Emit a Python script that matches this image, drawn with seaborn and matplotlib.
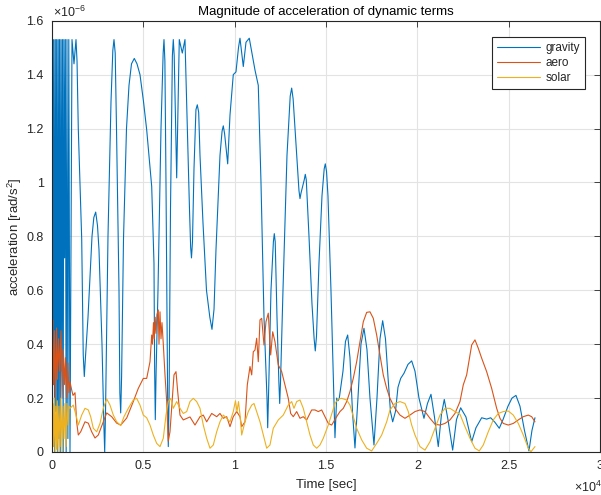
import numpy as np
import pandas as pd
import matplotlib
matplotlib.use("Agg")
import matplotlib.pyplot as plt
import seaborn as sns
from matplotlib.ticker import FuncFormatter

# ---------------- data (time in s, acceleration in 1e-6 rad/s^2) ----------------
gravity_t = [0, 30, 65, 100, 140, 180, 215, 255, 295, 335, 370, 410, 450, 490, 530,
             570, 610, 650, 690, 730, 775, 820, 870, 920, 985,
             1095, 1204, 1314, 1370, 1439, 1626, 1710, 1768, 1830, 1971, 2190, 2290, 2392, 2490,
             2573, 2737, 2840, 2885, 2930,
             3065, 3230, 3330, 3394, 3460, 3531, 3668, 3715, 3761, 3810, 3914, 4078, 4215, 4352, 4505, 4653,
             4817, 5009, 5184, 5310, 5458, 5583, 5620, 5655, 5700, 5802, 5967, 6085, 6131, 6180, 6240,
             6330, 6366, 6410,
             6487, 6590, 6640, 6690, 6826, 6968, 7133, 7280, 7390, 7527, 7590, 7636, 7690, 7773,
             7880, 7954, 8030, 8102,
             8266, 8457, 8640, 8758, 8870, 8977, 9196, 9310, 9377, 9450, 9618, 9744, 9924, 10072, 10209, 10291,
             10472, 10620, 10800, 10948, 11112, 11293, 11441, 11605, 11770, 11808, 11850, 11988,
             12120, 12169, 12220, 12317, 12420, 12465, 12510, 12645, 12864, 13040, 13121, 13200, 13302,
             13520, 13576, 13630, 13810, 13866, 13920, 14069,
             14232, 14350, 14413, 14480, 14616, 14780, 14900, 14961, 15030, 15108, 15272, 15491, 15584, 15656,
             15727, 15930, 16066, 16186, 16312, 16449, 16586, 16750, 16914, 17079,
             17243, 17407, 17626, 17791, 17955, 18102, 18256, 18392, 18529, 18650,
             18803, 18940, 19088, 19269, 19488, 19690, 19871, 20090, 20363, 20555,
             20747, 20938, 21146, 21322, 21475, 21677, 21934, 22142, 22372, 22662,
             22975, 23210, 23522, 23796, 24015, 24250, 24486, 24689, 24963, 25182,
             25399, 25618, 25865, 26111, 26275, 26440]
gravity_v = [1.27, 1.53, 0.25, 1.53, 0.0, 1.53, 0.15, 1.53, 0.0, 1.53, 0.05, 1.53, 0.0, 1.53, 0.3,
             1.53, 0.0, 1.53, 0.72, 1.53, 0.0, 1.53, 0.05, 1.53, 0.0,
             1.53, 1.44, 1.53, 1.45, 1.2, 0.79, 0.36, 0.28, 0.35, 0.5, 0.8, 0.87, 0.89, 0.84,
             0.75, 0.4, 0.1, 0.0, 0.15,
             0.8, 1.3, 1.49, 1.53, 1.48, 1.2, 0.6, 0.22, 0.145, 0.28, 0.79, 1.2, 1.36, 1.44, 1.46, 1.44,
             1.40, 1.30, 1.195, 1.1, 0.985, 0.7, 0.3, 0.12, 0.3, 0.6, 1.2, 1.48, 1.53, 1.45, 1.0,
             0.2, 0.02, 0.2,
             0.9, 1.47, 1.53, 1.47, 1.017, 1.53, 1.48, 1.53, 1.25, 0.9, 0.76, 0.72, 0.78, 1.05,
             1.27, 1.288, 1.26, 1.1,
             0.85, 0.6, 0.5, 0.455, 0.53, 0.75, 1.1, 1.19, 1.21, 1.18, 1.069, 1.25, 1.40, 1.41, 1.5, 1.535,
             1.43, 1.52, 1.535, 1.48, 1.417, 1.36, 1.0, 0.5, 0.2, 0.09, 0.2, 0.6,
             0.78, 0.81, 0.78, 0.5, 0.26, 0.18, 0.26, 0.6, 1.1, 1.32, 1.35, 1.31, 1.2,
             0.97, 0.94, 0.96, 1.01, 1.03, 1.01, 0.8,
             0.55, 0.42, 0.375, 0.43, 0.7, 0.95, 1.05, 1.069, 1.04, 0.95, 0.6, 0.053, 0.2, 0.19,
             0.2, 0.3, 0.41, 0.434, 0.35, 0.15, 0.015, 0.2, 0.4, 0.459,
             0.38, 0.2, 0.026, 0.2, 0.42, 0.487, 0.42, 0.28, 0.15, 0.112,
             0.15, 0.24, 0.273, 0.292, 0.325, 0.338, 0.3, 0.2, 0.125, 0.18,
             0.214, 0.13, 0.02, 0.14, 0.195, 0.12, 0.007, 0.12, 0.164, 0.13,
             0.038, 0.09, 0.127, 0.122, 0.127, 0.11, 0.088, 0.12, 0.17, 0.2,
             0.21, 0.17, 0.08, 0.004, 0.08, 0.127]

aero_t = [0, 40, 90, 140, 190, 250, 300, 360, 420, 490, 550, 620, 690, 740, 800, 870, 930, 985,
          1078, 1150, 1259, 1352, 1440, 1571, 1806, 1987, 2173, 2354, 2534, 2808, 2994,
          3268, 3542, 3761, 4089, 4450, 4724, 4998, 5184, 5365, 5458, 5501, 5556, 5600,
          5649, 5693, 5748, 5819, 5857, 5912, 5967, 6021, 6093, 6186, 6279, 6366, 6459,
          6552, 6678, 6788, 6881, 7007, 7187, 7554, 7828, 8102, 8282, 8468, 8742, 9016,
          9196, 9377, 9563, 9744, 9924, 10111, 10291, 10384, 10565, 10691, 10839, 10932,
          11019, 11112, 11205, 11293, 11386, 11479, 11605, 11714, 11840, 11972, 12081,
          12207, 12388, 12574, 12754, 12935, 13066, 13209, 13395, 13576, 13756, 13942,
          14216, 14397, 14577, 14763, 14944, 15125, 15311, 15584, 15765, 15946, 16132,
          16312, 16493, 16679, 16860, 17041, 17227, 17407, 17588, 17774, 17955, 18135,
          18322, 18502, 18776, 19050, 19323, 19597, 19871, 20144, 20418, 20692, 20965,
          21239, 21513, 21787, 22060, 22334, 22515, 22700, 22881, 22975, 23155, 23336,
          23522, 23795, 24069, 24343, 24524, 24704, 24978, 25252, 25526, 25800, 26073,
          26259, 26440]
aero_v = [0.42, 0.49, 0.25, 0.45, 0.2, 0.46, 0.27, 0.42, 0.3, 0.45, 0.2, 0.38, 0.25, 0.35, 0.2, 0.33, 0.22, 0.26,
          0.23, 0.21, 0.22, 0.11, 0.063, 0.075, 0.112, 0.107, 0.075, 0.052, 0.063, 0.112, 0.145,
          0.131, 0.107, 0.1, 0.126, 0.187, 0.236, 0.273, 0.273, 0.335, 0.434, 0.4, 0.48, 0.42,
          0.5, 0.44, 0.51, 0.527, 0.4, 0.52, 0.42, 0.48, 0.40, 0.286, 0.187, 0.04, 0.075,
          0.163, 0.286, 0.298, 0.224, 0.137, 0.119, 0.13, 0.1, 0.131, 0.137, 0.112, 0.143, 0.131,
          0.143, 0.125, 0.131, 0.094, 0.131, 0.15, 0.131, 0.094, 0.112, 0.249, 0.317, 0.286,
          0.372, 0.378, 0.422, 0.335, 0.49, 0.496, 0.397, 0.483, 0.515, 0.36, 0.446,
          0.409, 0.323, 0.298, 0.249, 0.199, 0.143, 0.131, 0.15, 0.125, 0.131, 0.119,
          0.156, 0.156, 0.15, 0.156, 0.131, 0.106, 0.1, 0.131, 0.15, 0.162, 0.187,
          0.224, 0.273, 0.335, 0.409, 0.483, 0.518, 0.52, 0.496, 0.434, 0.36, 0.286,
          0.236, 0.199, 0.162, 0.137, 0.125, 0.137, 0.15, 0.156, 0.15, 0.125, 0.103,
          0.1, 0.106, 0.119, 0.143, 0.187, 0.249, 0.286, 0.36, 0.397, 0.416, 0.385,
          0.348, 0.298, 0.236, 0.162, 0.125, 0.106, 0.1, 0.106, 0.119, 0.131, 0.137,
          0.131, 0.112]

solar_t = [0, 40, 80, 125, 165, 210, 250, 290, 330, 380, 440, 490, 550, 600, 660, 710, 770, 820, 880, 930, 985,
           1166, 1314, 1440, 1626, 1806, 1987, 2118, 2261, 2447, 2628, 2808, 2994, 3175, 3356,
           3542, 3761, 3941, 4177, 4450, 4636, 4817, 4998, 5184, 5365, 5545, 5731, 5912, 6093,
           6240, 6366, 6497, 6640, 6826, 7007, 7187, 7374, 7554, 7735, 7921, 8102, 8282, 8468,
           8649, 8830, 9016, 9196, 9377, 9563, 9744, 9924, 10045, 10127, 10209, 10291, 10384,
           10565, 10746, 10932, 11058, 11205, 11293, 11386, 11567, 11753, 11933, 12114, 12388,
           12661, 12935, 13121, 13247, 13395, 13576, 13756, 13942, 14123, 14304, 14490, 14670,
           14851, 15125, 15311, 15491, 15656, 15858, 16132, 16312, 16493, 16679, 16953, 17227,
           17500, 17774, 18048, 18322, 18502, 18776, 19050, 19324, 19504, 19690, 19871, 20144,
           20418, 20692, 20966, 21239, 21513, 21787, 22060, 22334, 22608, 22881, 23155, 23390,
           23610, 23883, 24157, 24431, 24705, 24979, 25253, 25527, 25800, 26073, 26221, 26440]
solar_v = [0.1, 0.18, 0.02, 0.2, 0.0, 0.17, 0.01, 0.19, 0.0, 0.17, 0.02, 0.2, 0.0, 0.17, 0.05, 0.18, 0.02, 0.18, 0.1, 0.17, 0.162,
           0.174, 0.137, 0.1, 0.137, 0.162, 0.156, 0.131, 0.088, 0.075, 0.106, 0.162, 0.197, 0.174, 0.137,
           0.112, 0.098, 0.131, 0.162, 0.193, 0.199, 0.174, 0.137, 0.127, 0.1, 0.063, 0.032, 0.02, 0.051,
           0.137, 0.187, 0.199, 0.162, 0.187, 0.162, 0.143, 0.15, 0.187, 0.199, 0.187, 0.162, 0.1, 0.051,
           0.014, 0.026, 0.075, 0.112, 0.137, 0.125, 0.112, 0.15, 0.19, 0.15, 0.187, 0.14, 0.063,
           0.112, 0.15, 0.174, 0.18, 0.15, 0.131, 0.112, 0.063, 0.014, 0.026, 0.088, 0.119,
           0.137, 0.174, 0.187, 0.162, 0.187, 0.193, 0.162, 0.112, 0.063, 0.026, 0.014, 0.026,
           0.051, 0.1, 0.14, 0.18, 0.196, 0.199, 0.193, 0.174, 0.131, 0.088, 0.045, 0.014,
           0.004, 0.032, 0.063, 0.112, 0.156, 0.18, 0.187, 0.18, 0.15, 0.1, 0.063, 0.02,
           0.007, 0.038, 0.088, 0.137, 0.162, 0.162, 0.15, 0.14, 0.094, 0.051, 0.014, 0.004,
           0.026, 0.075, 0.119, 0.143, 0.15, 0.152, 0.137, 0.106, 0.063, 0.014, 0.001, 0.02]

series_names = ["gravity", "aero", "solar"]
series_colors = ["#0072BD", "#D95319", "#EDB120"]
x_ticks = [0, 5000, 10000, 15000, 20000, 25000, 30000]
y_ticks = [0, 0.2e-6, 0.4e-6, 0.6e-6, 0.8e-6, 1.0e-6, 1.2e-6, 1.4e-6, 1.6e-6]

# ---------------- plotting ----------------
sns.set_theme(style="white")
plt.rcParams["font.family"] = ["Liberation Sans", "DejaVu Sans"]
plt.rcParams["mathtext.fontset"] = "custom"
plt.rcParams["mathtext.rm"] = "Liberation Sans"
plt.rcParams["mathtext.it"] = "Liberation Sans:italic"

fig = plt.figure(figsize=(6.01, 4.95), dpi=100)
ax = fig.add_axes([52 / 601, 1 - 452 / 495, 548 / 601, (452 - 20.7) / 495])

frames = []
for name, t, v in [("gravity", gravity_t, gravity_v), ("aero", aero_t, aero_v), ("solar", solar_t, solar_v)]:
    frames.append(pd.DataFrame({"time": t, "acc": np.array(v) * 1e-6, "term": name}))
df = pd.concat(frames, ignore_index=True)

for name, col in zip(series_names, series_colors):
    sub = df[df["term"] == name]
    sns.lineplot(data=sub, x="time", y="acc", ax=ax, color=col, linewidth=0.8,
                 estimator=None, sort=False, label=name)

ax.set_xlim(0, 30000)
ax.set_ylim(0, 1.6e-6)
ax.set_xticks(x_ticks)
ax.set_yticks(y_ticks)
ax.xaxis.set_major_formatter(FuncFormatter(lambda t, p: f"{t / 1e4:g}"))
ax.yaxis.set_major_formatter(FuncFormatter(lambda v, p: f"{round(v * 1e6, 6):g}"))

dark = "#262626"
ax.grid(True, color="#e3e3e3", linewidth=0.8)
ax.set_axisbelow(True)
for s in ax.spines.values():
    s.set_color(dark)
    s.set_linewidth(0.8)
ax.tick_params(axis="both", direction="in", length=4, width=0.6, colors=dark,
               labelsize=9, top=True, right=True, labelcolor=dark, pad=6)

ax.set_xlabel("Time [sec]", fontsize=9.5, color=dark, labelpad=5)
ax.set_ylabel("acceleration [rad/s$^2$]", fontsize=9.5, color=dark, labelpad=1.5)
ax.set_title("Magnitude of acceleration of dynamic terms", fontsize=9.5, color="black", pad=4)

fig.text(53 / 601, 1 - 12 / 495, r"$\times$10$^{-6}$", fontsize=9, color=dark, va="center", ha="left")
fig.text(574 / 601, 1 - 487 / 495, r"$\times$10$^{4}$", fontsize=9, color=dark, va="center", ha="left")

leg = ax.legend(loc="upper right", bbox_to_anchor=(0.983, 0.975), fontsize=8.5, frameon=True,
                fancybox=False, edgecolor=dark, framealpha=1, handlelength=3.6,
                borderpad=0.4, labelspacing=0.25, handletextpad=0.5)
leg.get_frame().set_linewidth(0.8)

fig.savefig("out.png", dpi=100)
